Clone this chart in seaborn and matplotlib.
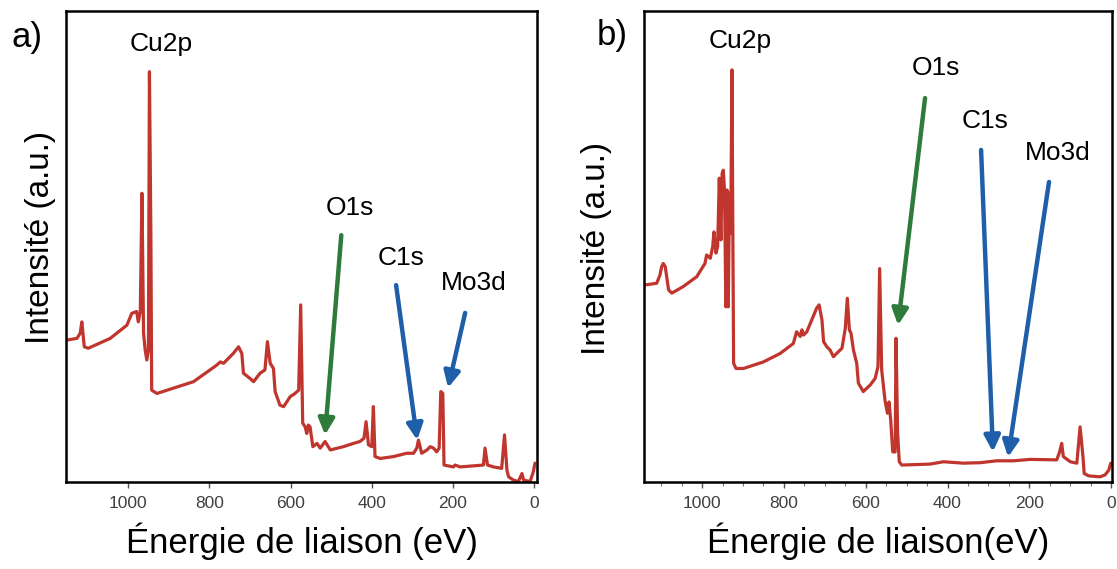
import numpy as np
import pandas as pd
import matplotlib
matplotlib.use("Agg")
import matplotlib.pyplot as plt
import seaborn as sns
from matplotlib.ticker import MultipleLocator

# ---------------- data ----------------
energy_a = [1153, 1126, 1118, 1114, 1108, 1098, 1044, 1003, 991, 979, 975, 970, 966, 962, 958, 954,
            950, 947.5, 944, 942, 929, 839, 782, 773, 765, 757, 741, 728, 720, 716, 700, 691, 675,
            663, 657, 650, 642, 638, 626, 617, 601, 589, 580, 575, 570, 564, 560, 556, 552, 545,
            535, 527, 515, 502, 470, 445, 429, 419, 414, 408, 400, 396, 392, 379, 346, 314, 297,
            289, 285, 277, 264, 256, 248, 240, 234, 230, 225, 222, 199, 195, 182, 125, 121, 115,
            100, 80, 73, 67, 63, 51, 39, 30, 26, 10, 2, -2]
intensity_a = [30.1, 30.5, 31.6, 34.0, 28.7, 28.4, 30.5, 33.3, 35.8, 36.2, 34.0, 36.2, 61.3, 31.6, 28.0, 25.9,
               28.0, 87.1, 52.8, 19.5, 18.8, 21.3, 24.8, 25.5, 25.2, 25.9, 27.3, 28.7, 27.3, 23.1, 22.0, 21.3, 23.1,
               23.8, 29.8, 25.2, 24.1, 19.2, 16.3, 16.0, 18.1, 18.8, 19.5, 37.6, 12.5, 11.7, 10.3, 12.1, 11.7, 7.5,
               8.2, 7.2, 8.6, 6.8, 7.5, 8.2, 8.6, 9.3, 12.8, 7.9, 7.5, 16.0, 5.4, 5.0, 5.4, 6.1, 6.1,
               7.2, 8.9, 6.1, 6.8, 7.5, 7.2, 6.4, 7.2, 19.2, 18.8, 3.6, 3.2, 3.6, 3.2, 3.6, 7.2, 3.6,
               3.2, 2.9, 10.0, 2.5, 1.1, 0.4, 0.1, 1.8, 0.4, 0.1, 2.2, 4.0]

energy_b = [1142, 1111, 1103, 1099, 1095, 1090, 1082, 1074, 1046, 1013, 993, 989, 980, 974, 971, 966,
            962, 958, 954, 951, 948, 945, 942, 939, 936, 933, 930, 927, 923, 917, 899, 850, 809,
            777, 769, 760, 756, 752, 744, 732, 720, 714, 707, 703, 695, 687, 679, 671, 658, 650,
            645, 640, 636, 630, 622, 618, 606, 589, 577, 570, 566, 561, 553, 547, 543, 539, 534,
            528, 526, 522, 518, 512, 443, 410, 361, 320, 280, 239, 198, 133, 126, 121, 117, 100,
            84, 76, 69, 66, 55, 27, 15, 6, 1]
intensity_b = [41.8, 42.2, 43.9, 45.7, 46.4, 45.7, 40.8, 40.1, 41.5, 43.6, 46.4, 48.2, 47.5, 50.0, 53.1, 48.6,
               50.0, 64.5, 51.4, 65.5, 66.2, 61.3, 37.2, 62.0, 37.2, 61.3, 52.8, 87.5, 25.2, 24.1, 24.1, 25.5, 27.3,
               29.4, 31.9, 30.9, 32.3, 31.2, 31.9, 34.4, 36.9, 37.6, 34.4, 29.8, 28.7, 28.0, 26.6, 27.3, 28.4, 32.6,
               39.0, 32.3, 31.6, 28.0, 25.2, 21.0, 19.2, 20.6, 22.0, 24.5, 45.3, 23.8, 17.4, 14.6, 17.0, 13.2, 6.4,
               6.4, 30.5, 10.3, 4.3, 3.6, 3.8, 4.3, 4.0, 4.1, 4.5, 4.5, 4.8, 4.7, 6.4, 8.2, 5.4, 4.3,
               4.0, 11.7, 5.4, 1.8, 1.3, 1.1, 1.5, 2.5, 4.0]

peak_labels = ["Cu2p", "O1s", "C1s", "Mo3d"]
# label positions (energy, intensity)
label_pos_a = [(919, 93.0), (453, 58.2), (328, 47.6), (150, 42.3)]
label_pos_b = [(907, 93.6), (428, 87.9), (308, 76.6), (130, 69.9)]
# arrows: (tail energy, tail intensity, tip energy, tip intensity)
arrows_a = [(475, 52.4, 515, 10.0), (340, 41.8, 288, 8.9), (170, 35.9, 212, 20.0)]
arrows_b = [(455, 81.5, 521, 33.3), (318, 70.5, 289, 6.4), (152, 63.7, 252, 5.3)]
arrow_colors = ["#2e7b3c", "#1f5ea8", "#1f5ea8"]

xticks = [1000, 800, 600, 400, 200, 0]
panel_letters = ["a)", "b)"]
xlabels = ["Énergie de liaison (eV)", "Énergie de liaison(eV)"]
ylabel = "Intensité (a.u.)"

# ---------------- style ----------------
sns.set_theme(style="white")
plt.rcParams["font.family"] = ["Liberation Sans", "DejaVu Sans"]
plt.rcParams["text.color"] = "black"

LINE = "#c0352d"
W, H = 1117, 569
fig = plt.figure(figsize=(W / 100, H / 100), dpi=100)
fig.patch.set_facecolor("white")

ax_a = fig.add_axes([66 / W, 1 - 482 / H, (537 - 66) / W, (482 - 11) / H])
ax_b = fig.add_axes([644 / W, 1 - 482 / H, (1112 - 644) / W, (482 - 11) / H])

panels = [
    (ax_a, energy_a, intensity_a, label_pos_a, arrows_a, (1153, -7), 41 / W),
    (ax_b, energy_b, intensity_b, label_pos_b, arrows_b, (1142, -2), 597 / W),
]

for i, (ax, en, it, lpos, arrs, xlim, ylab_x) in enumerate(panels):
    df = pd.DataFrame({"E": en, "I": it})
    sns.lineplot(data=df, x="E", y="I", ax=ax, color=LINE, lw=2.3,
                 sort=False, estimator=None)
    ax.set_xlim(*xlim)
    ax.set_ylim(0, 100)
    ax.set_xticks(xticks)
    ax.set_yticks([])
    if i == 1:
        ax.xaxis.set_minor_locator(MultipleLocator(50))
    ax.tick_params(axis="x", which="major", bottom=True, length=4, width=1.0,
                   color="#555555", labelsize=12.5, labelcolor="#404040", pad=6)
    ax.tick_params(axis="x", which="minor", bottom=True, length=3, width=0.8,
                   color="#777777")
    for sp in ax.spines.values():
        sp.set_visible(True)
        sp.set_color("black")
        sp.set_linewidth(1.8)
    ax.set_xlabel("")
    ax.set_ylabel("")

    fig.text((66 + 537) / 2 / W if i == 0 else (644 + 1112) / 2 / W, 1 - 541 / H,
             xlabels[i], ha="center", va="center", fontsize=25, color="black")
    fig.text(ylab_x, 1 - (237 if i == 0 else 248) / H, ylabel, rotation=90,
             ha="center", va="center", fontsize=24, color="black")

    for lab, (ex, iy) in zip(peak_labels, lpos):
        ax.text(ex, iy, lab, ha="center", va="center", fontsize=19, color="black")
    for (x0, y0, x1, y1), c in zip(arrs, arrow_colors):
        ax.annotate("", xy=(x1, y1), xytext=(x0, y0),
                    arrowprops=dict(arrowstyle="-|>", color=c, lw=3.2,
                                    mutation_scale=24, shrinkA=0, shrinkB=0))

fig.text(27 / W, 1 - 38 / H, panel_letters[0], ha="center", va="center",
         fontsize=25, color="black")
fig.text(612 / W, 1 - 36 / H, panel_letters[1], ha="center", va="center",
         fontsize=25, color="black")

fig.savefig("out.png", dpi=100, facecolor="white")
